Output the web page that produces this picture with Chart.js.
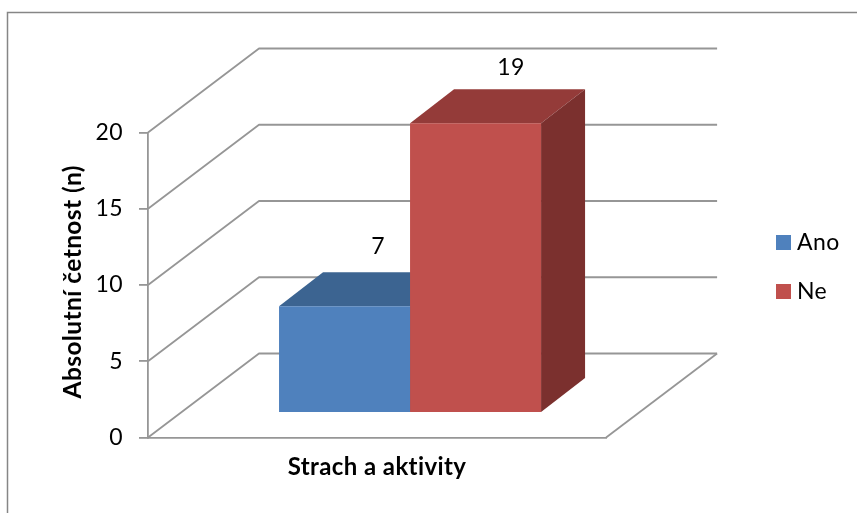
<!DOCTYPE html>
<html lang="cs">
<head>
<meta charset="utf-8">
<title>Strach a aktivity</title>
<style>
  html, body { margin: 0; padding: 0; background: #fff; }
  canvas { display: block; }
</style>
<script src="https://cdn.jsdelivr.net/npm/chart.js@4"></script>
</head>
<body>
<canvas id="chart" width="857" height="513"></canvas>
<script>
const categories = ['Strach a aktivity'];
const seriesNames = ['Ano', 'Ne'];
const anoValues = [7];
const neValues = [19];
const axisTitleY = ' Absolutní četnost (n)';
const axisTitleX = 'Strach a aktivity';

const FONT = 'Lato, Carlito, Calibri, sans-serif';
const LINE = '#969696';

// Oblique projection: the walls recede by WALL, the columns stand a little
// way into the floor (INSET) and have their own depth (DEPTH).
const WALL = { x: 111, y: -84 };
const INSET = { x: 33, y: -24.5 };
const DEPTH = { x: 44, y: -34 };
const faces = [
  { top: '#3C6491', side: '#345880' },
  { top: '#943B39', side: '#7B302E' }
];
const valueLabelShift = [{ x: 33.5, y: -60 }, { x: 35.5, y: -55.5 }];

function poly(ctx, pts, fill) {
  ctx.beginPath();
  pts.forEach((p, i) => (i ? ctx.lineTo(p[0], p[1]) : ctx.moveTo(p[0], p[1])));
  ctx.closePath();
  ctx.fillStyle = fill;
  ctx.fill();
}

const frame3d = {
  id: 'frame3d',
  beforeDraw(chart) {
    const ctx = chart.ctx;
    // a touch of tracking widens the glyphs and keeps "ti" from joining up
    ctx.letterSpacing = '0.4px';
    ctx.save();
    ctx.strokeStyle = '#868686';
    ctx.lineWidth = 1.5;
    ctx.strokeRect(7.5, 12.5, 900, 560);
    ctx.restore();
  },
  afterLayout(chart) {
    // legend sits well clear of the plot, in the right margin
    const lg = chart.legend;
    lg.left = 781.5 - lg.options.labels.padding;
    lg.right = 857;
    lg.top = 205;
    lg.bottom = 340;
  },
  beforeDatasetsDraw(chart) {
    const ctx = chart.ctx;
    const { left, right, bottom } = chart.chartArea;
    const y = chart.scales.y;
    ctx.save();
    ctx.strokeStyle = LINE;
    ctx.lineWidth = 1.8;
    ctx.lineJoin = 'round';
    y.ticks.forEach(t => {
      const py = y.getPixelForValue(t.value);
      ctx.beginPath();
      ctx.moveTo(left, py);
      ctx.lineTo(left + WALL.x, py + WALL.y);
      ctx.lineTo(right + WALL.x, py + WALL.y);
      ctx.stroke();
    });
    ctx.beginPath();
    ctx.moveTo(right, bottom);
    ctx.lineTo(right + WALL.x, bottom + WALL.y);
    ctx.stroke();

    // top and side faces of each column, left column first
    chart.data.datasets.forEach((ds, i) => {
      const bar = chart.getDatasetMeta(i).data[0];
      const l = bar.x - bar.width / 2 + INSET.x;
      const r = bar.x + bar.width / 2 + INSET.x;
      const t = bar.y + INSET.y;
      const b = bar.base + INSET.y;
      poly(ctx, [[l, t], [l + DEPTH.x, t + DEPTH.y], [r + DEPTH.x, t + DEPTH.y], [r, t]], faces[i].top);
      poly(ctx, [[r, t], [r + DEPTH.x, t + DEPTH.y], [r + DEPTH.x, b + DEPTH.y], [r, b]], faces[i].side);
    });
    ctx.restore();

    ctx.save();
    ctx.translate(INSET.x, INSET.y);
  },
  afterDatasetsDraw(chart) {
    const ctx = chart.ctx;
    ctx.restore();
    ctx.save();
    ctx.fillStyle = '#000';
    ctx.font = '23px ' + FONT;
    ctx.textAlign = 'center';
    ctx.textBaseline = 'middle';
    chart.data.datasets.forEach((ds, i) => {
      const bar = chart.getDatasetMeta(i).data[0];
      const s = valueLabelShift[i];
      ctx.fillText(String(ds.data[0]), bar.x + INSET.x + s.x, bar.y + INSET.y + s.y);
    });
    ctx.restore();
  }
};

new Chart(document.getElementById('chart'), {
  type: 'bar',
  data: {
    labels: categories,
    datasets: [
      { label: seriesNames[0], data: anoValues, backgroundColor: '#4F81BD', clip: false },
      { label: seriesNames[1], data: neValues, backgroundColor: '#C0504D', clip: false }
    ]
  },
  plugins: [frame3d],
  options: {
    responsive: false,
    animation: false,
    layout: { padding: { top: 132.5, right: 158, bottom: 0, left: 0 } },
    datasets: { bar: { categoryPercentage: 0.572, barPercentage: 1 } },
    plugins: {
      tooltip: { enabled: false },
      legend: {
        position: 'right',
        align: 'start',
        labels: {
          // a small swatch with a thick stroke of the same colour: the square
          // stays 15px wide while the text sits closer to it
          boxWidth: 4,
          boxHeight: 4,
          padding: 26,
          color: '#000',
          font: { family: FONT, size: 23 },
          generateLabels(chart) {
            return Chart.defaults.plugins.legend.labels.generateLabels(chart).map(item => ({
              ...item,
              strokeStyle: item.fillStyle,
              lineWidth: 11
            }));
          }
        }
      }
    },
    scales: {
      x: {
        afterFit(s) { s.height = 75.5; },
        ticks: { display: false },
        grid: { display: false },
        border: { color: LINE, width: 1.8 },
        title: {
          display: true,
          text: axisTitleX,
          color: '#000',
          font: { family: FONT, size: 24, weight: 'bold' },
          padding: { top: 0, bottom: 31 }
        }
      },
      y: {
        min: 0,
        max: 20,
        afterFit(s) { s.width = 148; },
        ticks: {
          stepSize: 5,
          padding: 16,
          color: '#000',
          font: { family: FONT, size: 23 }
        },
        grid: { drawOnChartArea: false, tickLength: 9, color: LINE, lineWidth: 1.8 },
        border: { color: LINE, width: 1.8 },
        title: {
          display: true,
          text: axisTitleY,
          color: '#000',
          font: { family: FONT, size: 24.5, weight: 'bold' },
          padding: { top: 58, bottom: 0 }
        }
      }
    }
  }
});
</script>
</body>
</html>
